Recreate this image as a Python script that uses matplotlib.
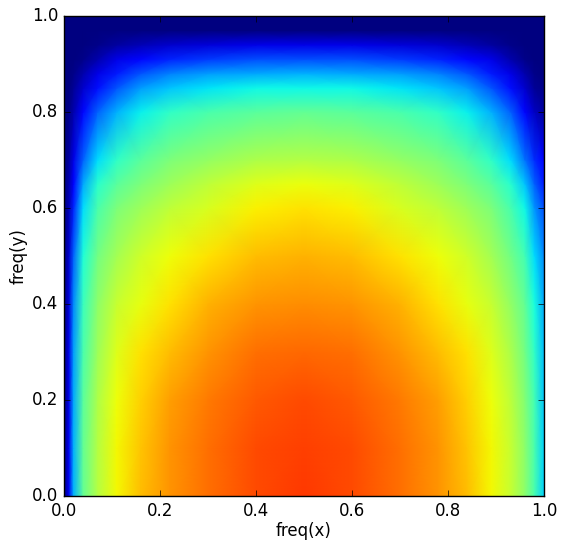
import matplotlib
matplotlib.use('Agg')
import matplotlib.pyplot as plt
import numpy as np

plt.style.use('classic')

# values, on jet scale 0..1
freq_x = [0, .01, .02, .04, .07, .11, .16, .22, .3, .4, .5, .6, .7, .78, .84, .89, .93, .96, .98, 1]
freq_y = [0, .1, .2, .3, .4, .5, .6, .65, .7, .8, .85, .88, .91, .94, .97, 1]
power = [
    [0, .10, .30, .47, .57, .645, .71, .75, .79, .83, .85, .83, .79, .75, .71, .645, .59, .52, .44, .33],
    [0, .10, .30, .47, .57, .645, .70, .75, .79, .83, .84, .83, .79, .75, .70, .645, .59, .52, .44, .33],
    [0, .09, .29, .46, .56, .64, .69, .74, .78, .815, .83, .815, .78, .74, .69, .64, .58, .51, .43, .32],
    [0, .09, .28, .44, .54, .62, .67, .71, .75, .79, .80, .79, .75, .71, .67, .62, .56, .49, .41, .31],
    [0, .08, .26, .42, .52, .59, .63, .67, .72, .75, .76, .75, .72, .67, .63, .59, .53, .47, .38, .29],
    [0, .07, .22, .39, .49, .55, .60, .64, .67, .71, .72, .71, .67, .64, .60, .55, .49, .43, .34, .26],
    [0, .05, .16, .34, .44, .50, .54, .58, .61, .655, .67, .655, .61, .58, .54, .50, .44, .37, .27, .20],
    [0, .04, .12, .29, .40, .46, .50, .54, .58, .62, .635, .62, .58, .54, .50, .46, .40, .32, .22, .15],
    [0, .03, .09, .22, .34, .41, .46, .50, .53, .56, .57, .56, .53, .50, .46, .41, .34, .24, .17, .11],
    [0, .01, .04, .13, .22, .30, .36, .41, .44, .46, .47, .46, .44, .41, .36, .30, .22, .13, .06, .03],
    [0, 0, .02, .07, .14, .21, .28, .32, .35, .37, .37, .37, .35, .32, .28, .21, .14, .07, .02, .01],
    [0, 0, .01, .04, .09, .15, .21, .25, .28, .29, .30, .29, .28, .25, .21, .15, .09, .04, .01, 0],
    [0, 0, 0, .01, .04, .09, .13, .16, .18, .20, .20, .20, .18, .16, .13, .09, .04, .01, 0, 0],
    [0, 0, 0, 0, .01, .03, .05, .07, .08, .09, .09, .09, .08, .07, .05, .03, .01, 0, 0, 0],
    [0] * 20,
    [0] * 20,
]

fig = plt.figure(figsize=(5.73, 5.43), dpi=100)
ax = fig.add_axes([64 / 573, 1 - 496 / 543, 480 / 573, 480 / 543])
ax.pcolormesh(freq_x, freq_y, np.array(power), cmap='jet', vmin=0, vmax=1, shading='gouraud')
ax.set_xlim(0, 1)
ax.set_ylim(0, 1)
ax.set_xlabel('freq(x)', labelpad=2)
ax.set_ylabel('freq(y)', labelpad=3)
plt.savefig('out.png', dpi=100)
